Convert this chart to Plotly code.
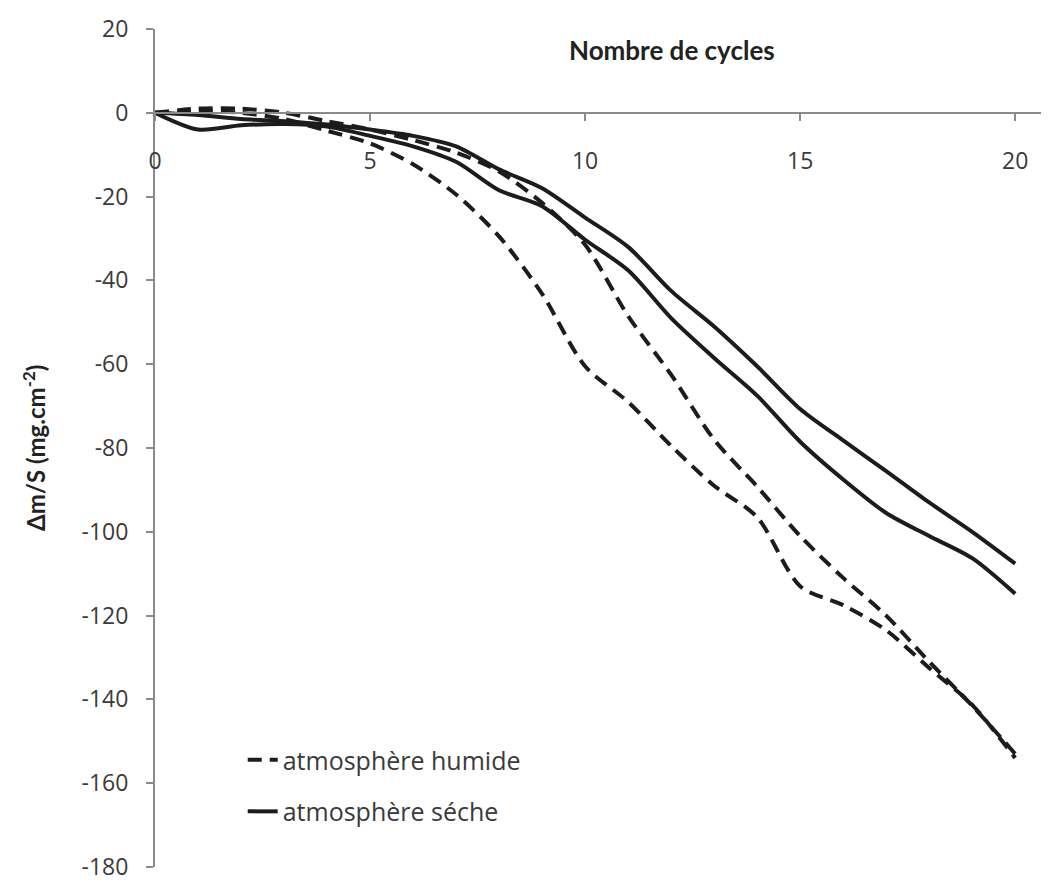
import plotly.graph_objects as go

cycles = list(range(0, 21))

humide_1 = [0, 0.5, 0, -1.5, -4.3, -7.3, -12.3, -19.5, -29.5, -43.2, -60.5,
            -69, -79.5, -89, -96.5, -113, -117.5, -123.5, -132.5, -141.3, -154]
humide_2 = [0, 1, 1, 0, -2, -4, -6.5, -9.5, -14, -21.5, -31.5,
            -48.5, -62.5, -78, -89.2, -101, -111, -120, -131, -141.5, -153]
seche_1 = [0, -0.5, -1.5, -2, -2.8, -4, -5.5, -8, -13.5, -18, -25,
           -32, -42.5, -51, -60.5, -70.7, -78.2, -85.5, -93, -100, -107.6]
seche_2 = [0, -4, -3, -2.7, -3.3, -5.5, -8, -11.7, -18.5, -22.3, -30.3,
           -37.6, -49, -58.5, -67.5, -78.5, -87.5, -95.5, -101, -106.3, -114.8]

x_ticks = [0, 5, 10, 15, 20]
y_ticks = [20, 0, -20, -40, -60, -80, -100, -120, -140, -160, -180]

TICK_FONT = "'Open Sans', Lato, sans-serif"
TITLE_FONT = "Lato, Carlito, Calibri, sans-serif"
LINE_COLOR = "#1c1c1c"
TEXT_COLOR = "#3a3a3a"

fig = go.Figure()

series = [
    (humide_1, "atmosphère humide", "14px,8px", "h", True),
    (humide_2, "atmosphère humide", "14px,8px", "h", False),
    (seche_1, "atmosphère séche", "solid", "s", True),
    (seche_2, "atmosphère séche", "solid", "s", False),
]
for vals, name, dash, grp, show in series:
    fig.add_trace(go.Scatter(
        x=cycles, y=vals, mode="lines", name=name,
        line=dict(color=LINE_COLOR, width=4, dash=dash, shape="spline", smoothing=0.8),
        legendgroup=grp, showlegend=show,
    ))

fig.update_layout(
    width=1049, height=890,
    margin=dict(l=155, r=8, t=29, b=21),
    paper_bgcolor="white", plot_bgcolor="white",
    font=dict(family=TICK_FONT, color=TEXT_COLOR, size=22),
    showlegend=True,
    legend=dict(
        x=0.099, y=0.155, xanchor="left", yanchor="top",
        bgcolor="rgba(0,0,0,0)", font=dict(size=25, color=TEXT_COLOR, family=TICK_FONT),
        tracegroupgap=16,
    ),
    xaxis=dict(
        range=[0, 20.6], tickvals=x_ticks, ticktext=[str(v) for v in x_ticks],
        anchor="free", position=0.9,
        showline=True, linecolor="#8a8a8a", linewidth=2,
        ticks="outside", ticklen=7, tickcolor="#8a8a8a", tickwidth=2,
        ticklabelstandoff=21,
        showgrid=False, zeroline=False,
        tickfont=dict(size=23, color=TEXT_COLOR),
    ),
    yaxis=dict(
        range=[-180, 20], tickvals=y_ticks, ticktext=[str(v) for v in y_ticks],
        showline=True, linecolor="#8a8a8a", linewidth=2,
        ticks="outside", ticklen=7, tickcolor="#8a8a8a", tickwidth=2,
        ticklabelstandoff=13,
        showgrid=False, zeroline=False,
        tickfont=dict(size=23, color=TEXT_COLOR),
    ),
)

fig.add_annotation(
    x=12.02, y=15, xref="x", yref="y", text="<b>Nombre de cycles</b>",
    xanchor="center", yanchor="middle",
    showarrow=False, font=dict(size=26, color="#222222", family=TITLE_FONT),
)
fig.add_annotation(
    x=-121 / 886, y=0.5, xref="paper", yref="paper",
    xanchor="center", yanchor="middle",
    text="<b>Δm/S (mg.cm<sup>-2</sup>)</b>", textangle=-90,
    showarrow=False, font=dict(size=24, color="#222222", family=TITLE_FONT),
)

fig.write_html("out.html")
